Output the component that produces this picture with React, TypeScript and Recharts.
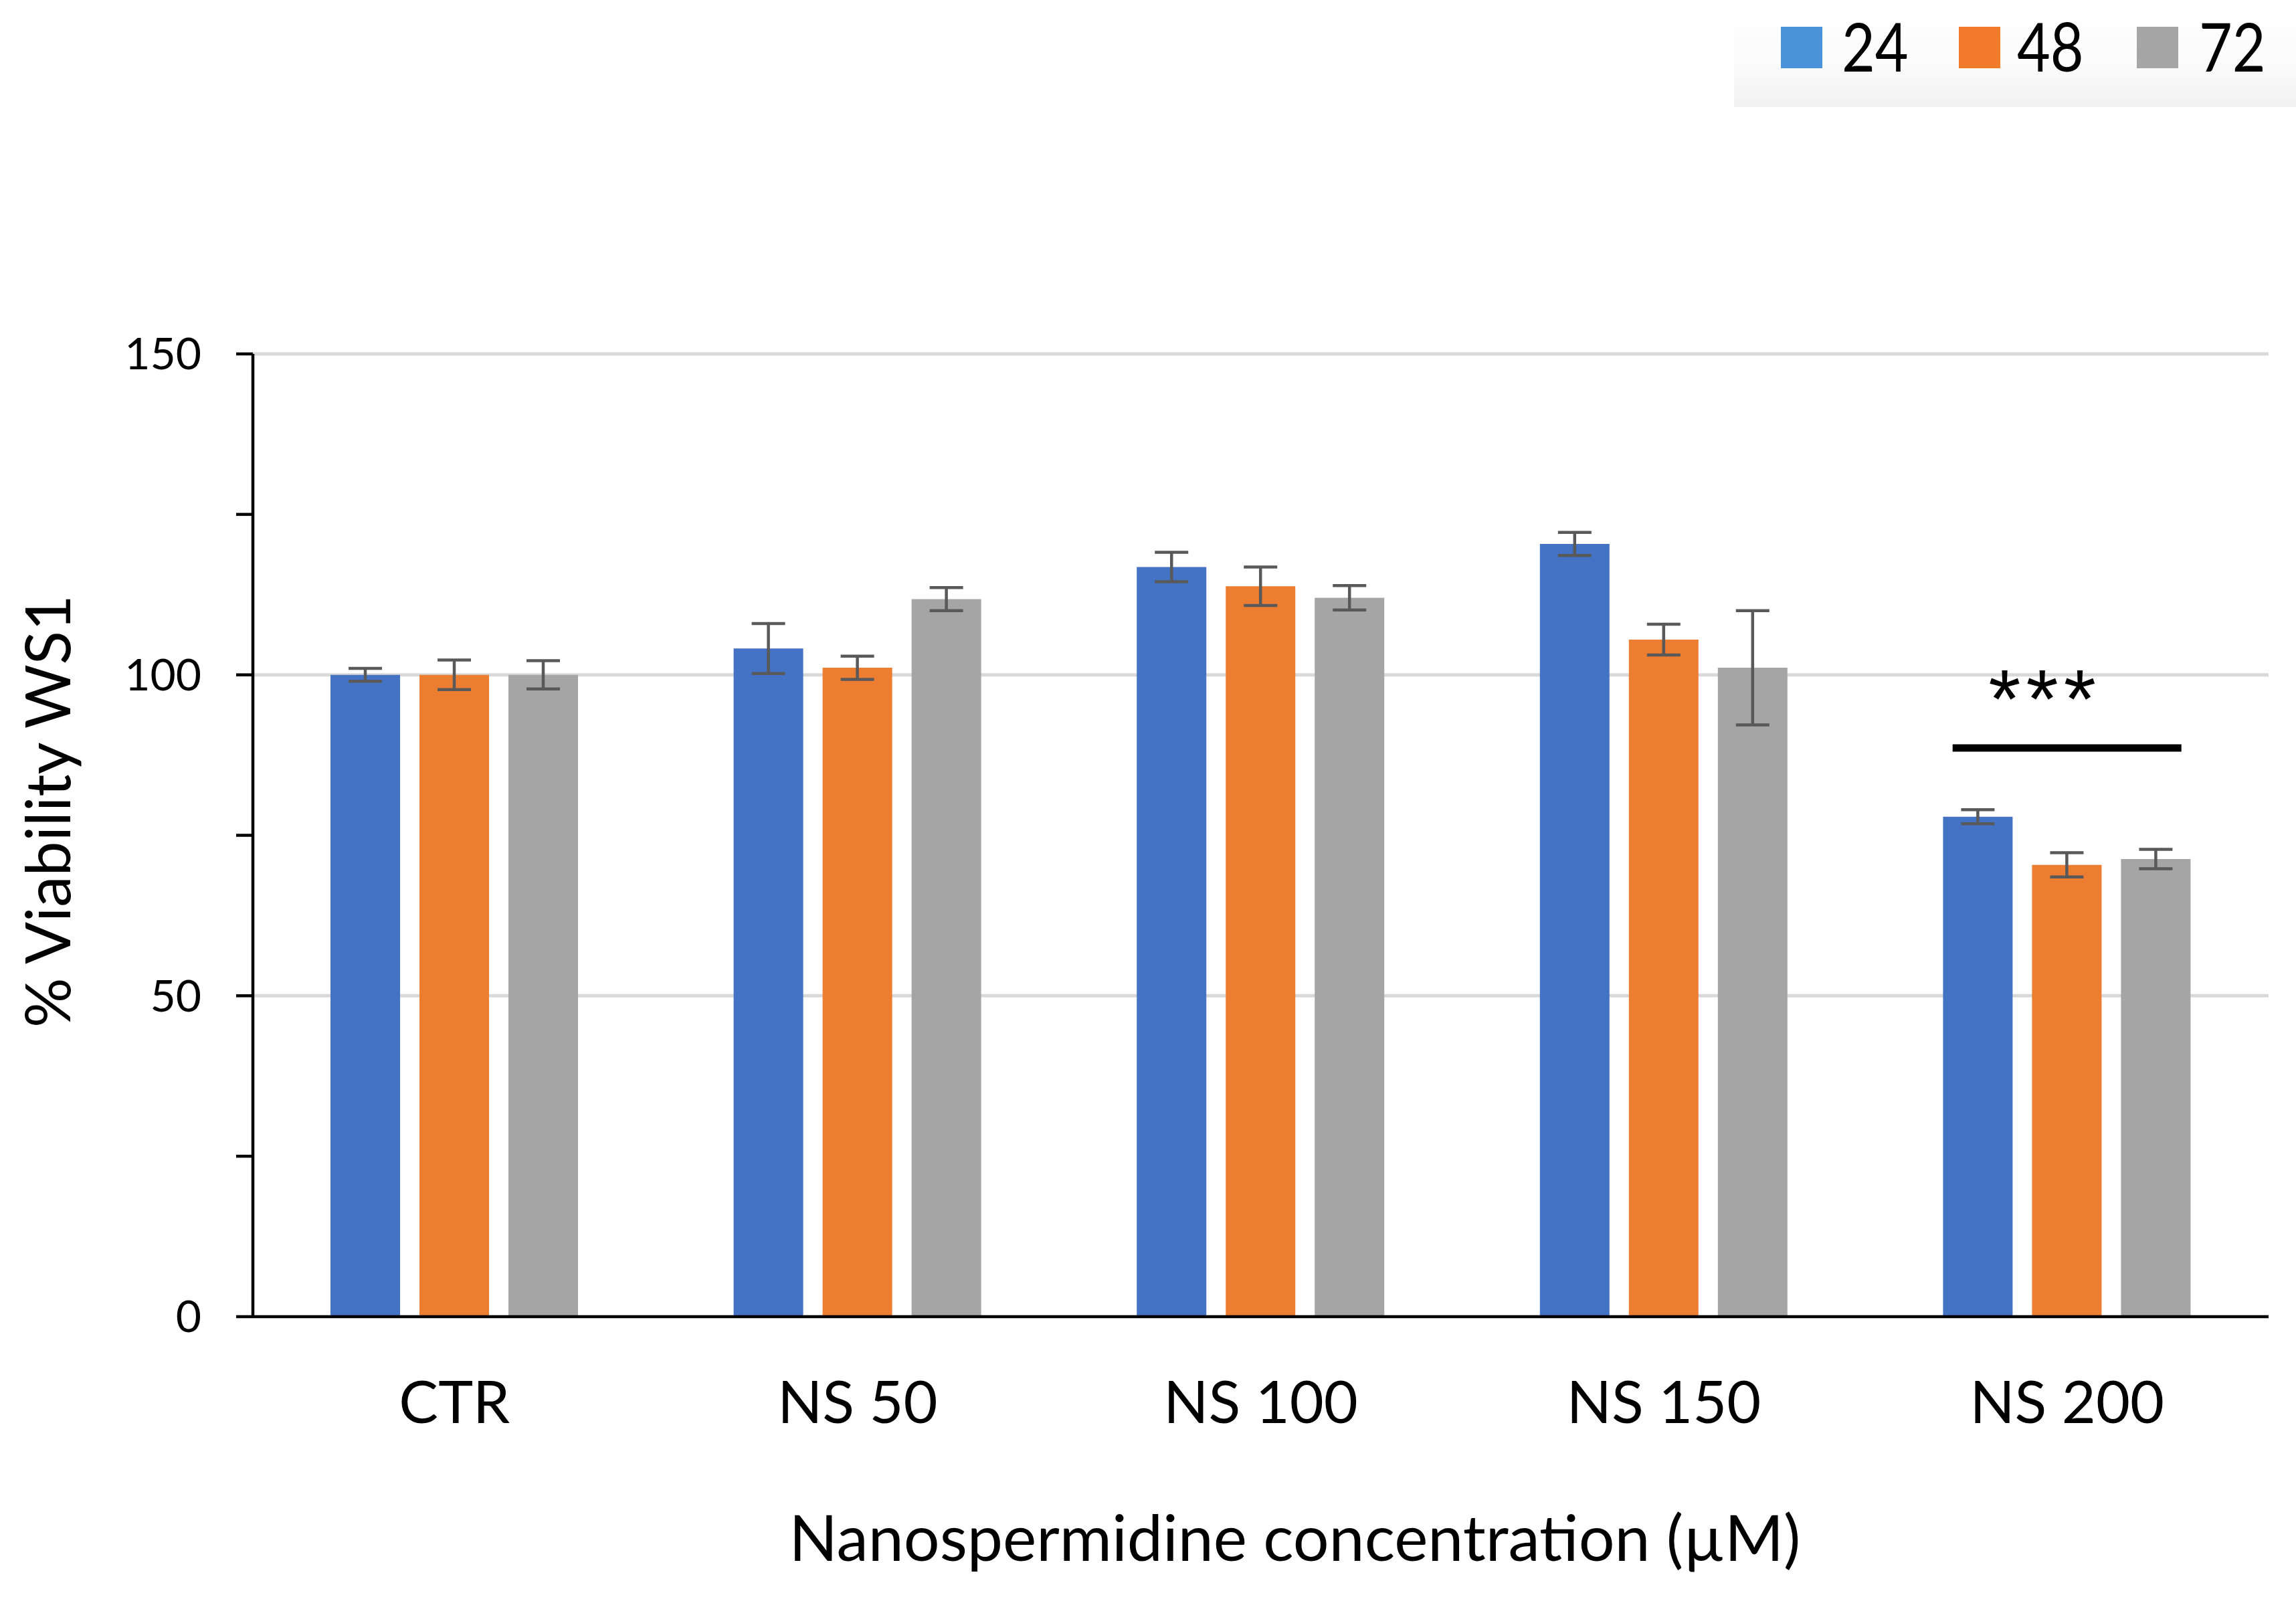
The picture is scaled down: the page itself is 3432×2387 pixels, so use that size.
import React from "react";
import {
  BarChart,
  Bar,
  XAxis,
  YAxis,
  CartesianGrid,
  ErrorBar,
  ReferenceLine,
} from "recharts";

const categories = ["CTR", "NS 50", "NS 100", "NS 150", "NS 200"];
const seriesNames = ["24", "48", "72"];

// mean viability (%) per time point
const mean24 = [100, 104.1, 116.8, 120.4, 77.9];
const mean48 = [100, 101.1, 113.8, 105.5, 70.4];
const mean72 = [100, 111.8, 112.0, 101.1, 71.3];

// error bar half-widths
const err24 = [1.0, 3.9, 2.3, 1.8, 1.1];
const err48 = [2.3, 1.8, 3.0, 2.4, 1.9];
const err72 = [2.2, 1.8, 1.9, 8.9, 1.5];

const yTicks = [0, 25, 50, 75, 100, 125, 150];
const gridValues = [50, 100, 150];

const sigCategory = "NS 200";
const sigLevel = 88.6;
const sigLabel = "***";

const barColors = ["#4472C4", "#ED7D31", "#A5A5A5"];
const legendColors = ["#4A92DA", "#F27A2B", "#A6A6A6"];

const data = categories.map((name, i) => ({
  name,
  h24: mean24[i],
  h48: mean48[i],
  h72: mean72[i],
  e24: err24[i],
  e48: err48[i],
  e72: err72[i],
}));

const FONT = "Lato, 'Open Sans', sans-serif";

// legend sits in its own box at the top right, like a pasted image
function LegendBox() {
  const squares = [70, 336, 602];
  const texts = [161, 423, 695];
  return (
    <svg width={840} height={160} style={{ display: "block" }}>
      <defs>
        <linearGradient id="lgShade" x1="0" y1="0" x2="0" y2="1">
          <stop offset="0" stopColor="#ffffff" />
          <stop offset="0.6" stopColor="#fbfbfb" />
          <stop offset="1" stopColor="#f1f1f1" />
        </linearGradient>
      </defs>
      <rect x={0} y={0} width={840} height={160} fill="url(#lgShade)" />
      {seriesNames.map((s, i) => (
        <g key={s}>
          <rect x={squares[i]} y={40} width={62} height={62} fill={legendColors[i]} />
          <text
            x={texts[i]}
            y={107}
            fontFamily={FONT}
            fontSize={100}
            fill="#000"
            transform={`translate(${texts[i]} 0) scale(0.86 1) translate(${-texts[i]} 0)`}
          >
            {s}
          </text>
        </g>
      ))}
    </svg>
  );
}

function YTick(props: any) {
  const { x, y, payload } = props;
  const v = payload.value;
  return (
    <text
      x={x}
      y={y}
      dy="0.355em"
      textAnchor="end"
      fontFamily={FONT}
      fontSize={66}
      fill="#000"
    >
      {v % 50 === 0 ? v : ""}
    </text>
  );
}

function XTick(props: any) {
  const { x, y, payload } = props;
  return (
    <text
      x={x}
      y={y}
      dy="0.71em"
      textAnchor="middle"
      fontFamily={FONT}
      fontSize={88}
      fill="#000"
    >
      {payload.value}
    </text>
  );
}

function YTitle(props: any) {
  const vb = props.viewBox;
  const x = vb.x + 105;
  const y = vb.y + vb.height / 2 - 36;
  return (
    <text
      x={x}
      y={y}
      transform={`rotate(-90 ${x} ${y})`}
      textAnchor="middle"
      fontFamily={FONT}
      fontSize={93}
      fill="#000"
    >
      % Viability WS1
    </text>
  );
}

function XTitle(props: any) {
  const vb = props.viewBox;
  return (
    <text
      x={vb.x + vb.width / 2 + 51}
      y={vb.y + 365}
      textAnchor="middle"
      fontFamily={FONT}
      fontSize={95}
      fill="#000"
    >
      Nanospermidine concentration (µM)
    </text>
  );
}

function SigMark(props: any) {
  const { x1, y1 } = props;
  return (
    <g>
      <line x1={x1 - 171} x2={x1 + 171} y1={y1} y2={y1} stroke="#000" strokeWidth={11} />
      <text
        x={x1 - 33}
        y={y1 - 30}
        textAnchor="middle"
        fontFamily="'Liberation Sans', Arial, sans-serif"
        fontSize={124}
        letterSpacing={8}
        fill="#000"
      >
        {sigLabel}
      </text>
    </g>
  );
}

export default function App() {
  return (
    <div
      style={{
        position: "absolute",
        left: 0,
        top: 0,
        width: 3432,
        height: 2387,
        background: "#fff",
      }}
    >
      <BarChart
        width={3432}
        height={2387}
        data={data}
        margin={{ top: 529, right: 41, bottom: 0, left: 0 }}
        barSize={104}
        barGap={29}
      >
        <CartesianGrid
          vertical={false}
          horizontalValues={gridValues}
          stroke="#D9D9D9"
          strokeWidth={5}
        />
        <XAxis
          dataKey="name"
          height={419}
          tickLine={false}
          tickSize={0}
          tickMargin={97}
          axisLine={{ stroke: "#000", strokeWidth: 4.5 }}
          tick={<XTick />}
          interval={0}
          label={<XTitle />}
        />
        <YAxis
          width={378}
          domain={[0, 150]}
          ticks={yTicks}
          interval={0}
          tickSize={25}
          tickMargin={52}
          tickLine={{ stroke: "#000", strokeWidth: 4.5 }}
          axisLine={{ stroke: "#000", strokeWidth: 4.5 }}
          tick={<YTick />}
          label={<YTitle />}
        />
        <Bar dataKey="h24" name={seriesNames[0]} fill={barColors[0]} isAnimationActive={false}>
          <ErrorBar dataKey="e24" width={25} stroke="#595959" strokeWidth={4.5} />
        </Bar>
        <Bar dataKey="h48" name={seriesNames[1]} fill={barColors[1]} isAnimationActive={false}>
          <ErrorBar dataKey="e48" width={25} stroke="#595959" strokeWidth={4.5} />
        </Bar>
        <Bar dataKey="h72" name={seriesNames[2]} fill={barColors[2]} isAnimationActive={false}>
          <ErrorBar dataKey="e72" width={25} stroke="#595959" strokeWidth={4.5} />
        </Bar>
        <ReferenceLine
          segment={[
            { x: sigCategory, y: sigLevel },
            { x: sigCategory, y: sigLevel },
          ]}
          shape={<SigMark />}
        />
      </BarChart>
      <div style={{ position: "absolute", top: 0, left: 2592 }}>
        <LegendBox />
      </div>
    </div>
  );
}
